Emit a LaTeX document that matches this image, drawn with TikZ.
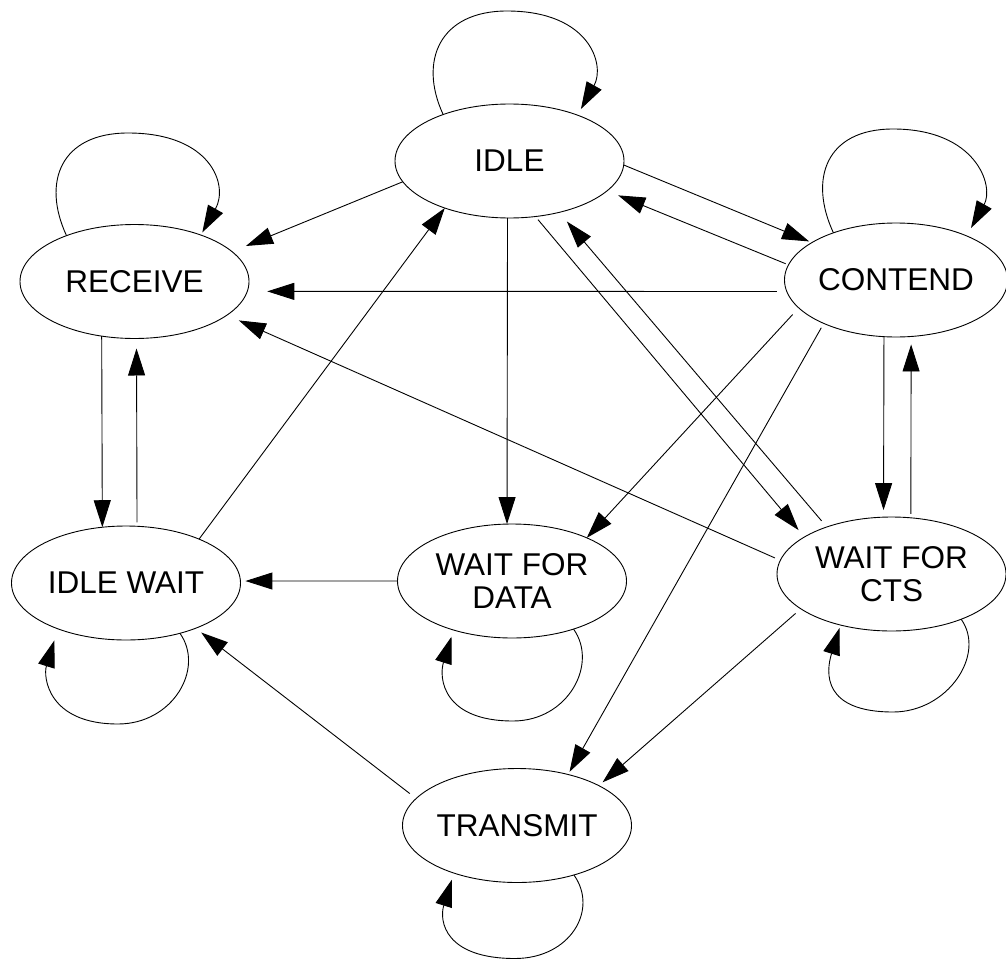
\documentclass[tikz,border=0pt]{standalone}
\usepackage{fontspec}
\setmainfont{Liberation Sans}
\usetikzlibrary{arrows.meta,calc,shapes.geometric}
\begin{document}
\begin{tikzpicture}[x=1pt,y=-1pt,
  state/.style={draw, ellipse, line width=0.9pt, minimum width=229pt, minimum height=114pt,
    inner sep=0pt, outer sep=0pt, align=center, font=\fontsize{31.5}{33}\selectfont},
  arr/.style={draw, line width=0.9pt, -{Triangle[length=27pt,width=17pt]}}]
\useasboundingbox (0,0) rectangle (1006,963);
% states
\node[state] (idle) at (509.5,161) {IDLE};
\node[state] (rcv) at (134.5,281.5) {RECEIVE};
\node[state, minimum width=223pt] (cont) at (896,280) {CONTEND};
\node[state] (iw) at (126,583) {IDLE WAIT};
\node[state] (wfd) at (512,581) {WAIT FOR\\DATA};
\node[state] (wfc) at (891.5,574) {WAIT FOR\\CTS};
\node[state] (tx) at (517,825.5) {TRANSMIT};
% transitions
\draw[arr, shorten >=15pt] (idle.191) -- (rcv.17);
\draw[arr, shorten >=3pt] (idle.358) -- (cont.156);
\draw[arr, shorten <=3pt, shorten >=12pt] (cont.172) -- (idle.343);
\draw[arr, shorten <=10pt, shorten >=20pt] (cont.186) -- (rcv.355);
\draw[arr] (idle.268) -- (wfd.95);
\draw[arr, shorten <=4pt, shorten >=9pt] (idle.295) -- (wfc.157);
\draw[arr, shorten <=8pt, shorten >=12pt] (wfc.144) -- (idle.314);
\draw[arr, shorten <=9pt] (cont.196) -- (wfd.30);
\draw[arr, shorten <=5pt, shorten >=3pt] (cont.211) -- (tx.45);
\draw[arr, shorten >=7pt] (cont.258) -- (wfc.98);
\draw[arr, shorten <=4pt, shorten >=8pt] (wfc.71) -- (cont.285);
\draw[arr, shorten <=6pt, shorten >=13pt] (wfc.173) -- (rcv.340);
\draw[arr, shorten <=7pt, shorten >=5pt] (wfc.201) -- (tx.26);
\draw[arr] (rcv.239) -- (iw.113);
\draw[arr, shorten <=4pt, shorten >=10pt] (iw.79) -- (rcv.272);
\draw[arr] (iw.31) -- (idle.216);
\draw[arr, shorten >=5pt] (wfd.180) -- (iw.1);
\draw[arr, shorten <=8pt, shorten >=7pt] (tx.165) -- (iw.327);
% self loops (upper)
\draw[arr, shorten >=7pt] (idle.145) .. controls +(-25,-54) and +(-67,0) .. ($(idle.center)+(-2.5,-150)$) .. controls +(83,0) and +(28,-50) .. (idle.34);
\draw[arr, shorten >=3pt] (rcv.146) .. controls +(-25,-54) and +(-67,0) .. ($(rcv.center)+(-6.5,-148.5)$) .. controls +(83,0) and +(28,-50) .. (rcv.35);
\draw[arr, shorten >=9pt] (cont.143) .. controls +(-25,-54) and +(-67,0) .. ($(cont.center)+(-3,-151)$) .. controls +(83,0) and +(28,-50) .. (cont.32);
% self loops (lower)
\draw[arr, shorten >=12pt] (iw.317) .. controls +(25,35) and +(55,0) .. ($(iw.center)+(-8,141)$) .. controls +(-70,0) and +(-15,48) .. (iw.214);
\draw[arr, shorten >=7pt] (wfd.322) .. controls +(25,35) and +(55,0) .. ($(wfd.center)+(1,140)$) .. controls +(-70,0) and +(-15,48) .. (wfd.220);
\draw[arr, shorten >=3pt] (wfc.327) .. controls +(25,35) and +(55,0) .. ($(wfc.center)+(1.5,138)$) .. controls +(-70,0) and +(-15,48) .. (wfc.225);
\draw[arr, shorten >=7pt] (tx.319) .. controls +(25,35) and +(55,0) .. ($(tx.center)+(-2,133)$) .. controls +(-70,0) and +(-15,48) .. (tx.217);
\end{tikzpicture}
\end{document}
